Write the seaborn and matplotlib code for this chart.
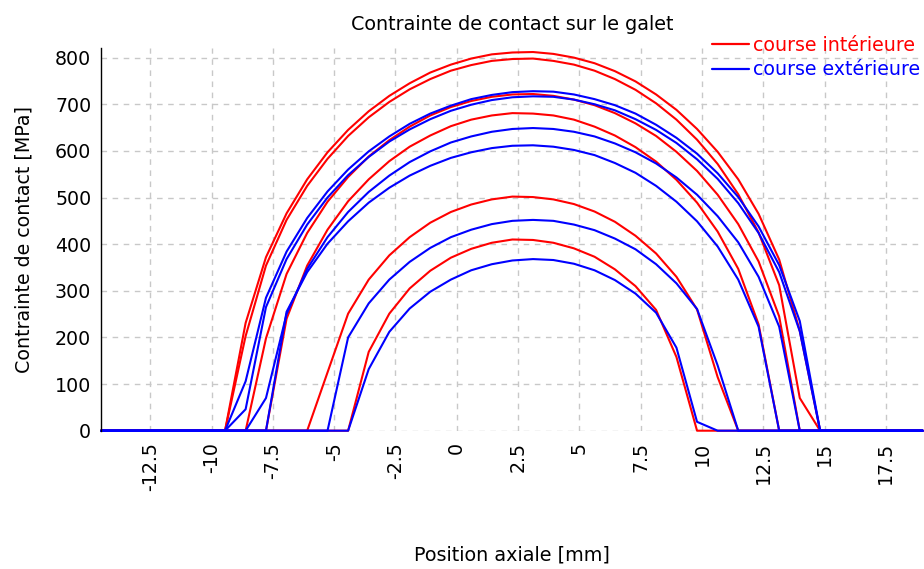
import matplotlib
matplotlib.use("Agg")
import matplotlib.pyplot as plt
import numpy as np
import pandas as pd
import seaborn as sns

# ---------------- data ----------------
x_mm = [-14.5, -9.45, -8.61, -7.78, -6.94, -6.10, -5.27, -4.43, -3.59, -2.75,
        -1.92, -1.08, -0.24, 0.59, 1.43, 2.27, 3.11, 3.94, 4.78, 5.62,
        6.45, 7.29, 8.13, 8.96, 9.80, 10.64, 11.48, 12.31, 13.15, 13.99,
        14.82, 19.0]

inner_1 = [0, 0, 231, 372, 466, 539, 597, 645, 685, 718, 745, 768, 785, 798, 807, 811,
           812, 808, 800, 788, 771, 749, 721, 688, 647, 598, 539, 465, 367, 214, 0, 0]
inner_2 = [0, 0, 203, 354, 452, 525, 583, 632, 672, 705, 732, 754, 772, 784, 793, 797,
           798, 793, 785, 772, 754, 731, 702, 667, 624, 572, 507, 425, 312, 70, 0, 0]
inner_3 = [0, 0, 0, 198, 336, 424, 491, 544, 588, 623, 652, 676, 694, 707, 716, 721,
           722, 718, 710, 698, 681, 659, 632, 598, 557, 506, 443, 363, 245, 0, 0, 0]
inner_4 = [0, 0, 0, 0, 240, 354, 431, 492, 539, 578, 609, 633, 653, 667, 676, 681,
           680, 676, 667, 652, 633, 608, 577, 538, 489, 427, 347, 228, 0, 0, 0, 0]
inner_5 = [0, 0, 0, 0, 0, 0, 125, 251, 324, 376, 415, 446, 469, 485, 496, 502,
           501, 496, 486, 470, 448, 418, 380, 330, 260, 115, 0, 0, 0, 0, 0, 0]
inner_6 = [0, 0, 0, 0, 0, 0, 0, 0, 169, 251, 305, 343, 371, 390, 403, 410,
           409, 403, 391, 373, 346, 310, 259, 158, 0, 0, 0, 0, 0, 0, 0, 0]

outer_1 = [0, 0, 106, 285, 384, 456, 513, 560, 599, 631, 658, 680, 697, 711, 720, 726,
           728, 727, 721, 711, 698, 680, 656, 628, 594, 552, 501, 438, 355, 235, 0, 0]
outer_2 = [0, 0, 46, 265, 368, 442, 500, 548, 587, 620, 646, 668, 686, 699, 709, 715,
           717, 716, 710, 700, 687, 668, 645, 617, 582, 540, 488, 424, 340, 213, 0, 0]
outer_3 = [0, 0, 0, 70, 250, 347, 415, 469, 512, 547, 576, 599, 618, 631, 641, 647,
           649, 647, 641, 631, 616, 597, 573, 543, 506, 460, 404, 330, 223, 0, 0, 0]
outer_4 = [0, 0, 0, 0, 255, 340, 401, 449, 489, 521, 547, 568, 585, 597, 606, 611,
           612, 609, 602, 591, 574, 553, 525, 491, 449, 395, 324, 223, 0, 0, 0, 0]
outer_5 = [0, 0, 0, 0, 0, 0, 0, 200, 273, 324, 362, 392, 415, 431, 443, 450,
           452, 450, 442, 430, 412, 389, 357, 316, 261, 140, 0, 0, 0, 0, 0, 0]
outer_6 = [0, 0, 0, 0, 0, 0, 0, 0, 132, 212, 262, 298, 324, 344, 357, 365,
           368, 366, 358, 344, 323, 294, 253, 178, 19, 0, 0, 0, 0, 0, 0, 0]

label_inner = "course intérieure"
label_outer = "course extérieure"
inner_series = [inner_1, inner_2, inner_3, inner_4, inner_5, inner_6]
outer_series = [outer_1, outer_2, outer_3, outer_4, outer_5, outer_6]

x_ticks = [-12.5, -10, -7.5, -5, -2.5, 0, 2.5, 5, 7.5, 10, 12.5, 15, 17.5]
x_tick_labels = ["-12.5", "-10", "-7.5", "-5", "-2.5", "0", "2.5", "5", "7.5",
                 "10", "12.5", "15", "17.5"]
y_ticks = [0, 100, 200, 300, 400, 500, 600, 700, 800]
y_tick_labels = ["0", "100", "200", "300", "400", "500", "600", "700", "800"]

title = "Contrainte de contact sur le galet"
x_label = "Position axiale [mm]"
y_label = "Contrainte de contact [MPa]"

# ---------------- build long table ----------------
rows = []
for i, ys in enumerate(inner_series):
    for x, y in zip(x_mm, ys):
        rows.append((x, y, label_inner, f"i{i}"))
for i, ys in enumerate(outer_series):
    for x, y in zip(x_mm, ys):
        rows.append((x, y, label_outer, f"o{i}"))
df = pd.DataFrame(rows, columns=["x", "p", "course", "case"])

# ---------------- plot ----------------
sns.set_style("white")
plt.rcParams["font.family"] = ["DejaVu Sans"]
plt.rcParams["text.color"] = "black"
plt.rcParams["axes.labelcolor"] = "black"
plt.rcParams["xtick.color"] = "black"
plt.rcParams["ytick.color"] = "black"

fig = plt.figure(figsize=(9.24, 5.69), dpi=100)
ax = fig.add_axes([0.10952, 0.24306, 0.8890, 0.67206])

palette = {label_inner: "#ff0000", label_outer: "#0000ff"}
sns.lineplot(data=df, x="x", y="p", hue="course", units="case", estimator=None,
             sort=False, palette=palette, hue_order=[label_inner, label_outer],
             lw=1.5, ax=ax, legend=True, clip_on=False)

ax.set_xlim(-14.5, 19.0)
ax.set_ylim(0, 820)
ax.set_xticks(x_ticks)
ax.set_xticklabels(x_tick_labels, rotation=90, fontsize=13.7, color="black")
ax.set_yticks(y_ticks)
ax.set_yticklabels(y_tick_labels, fontsize=13.7, color="black")
ax.tick_params(axis="x", direction="inout", length=9.4, width=1, color="#333333",
               pad=3.5)
ax.tick_params(axis="y", direction="inout", length=7.2, width=1, color="#333333",
               pad=3.5)

ax.grid(True, linestyle=(0, (4, 4)), color="#c8c8c8", lw=1)
ax.set_axisbelow(True)
for s in ["top", "right", "bottom"]:
    ax.spines[s].set_visible(False)
ax.spines["left"].set_color("#000000")
ax.spines["left"].set_linewidth(1)

ax.set_title(title, fontsize=13.8, pad=13.3, color="black")
ax.set_xlabel(x_label, fontsize=13.8, color="black")
ax.set_ylabel(y_label, fontsize=13.7, color="black")
ax.xaxis.set_label_coords(0.5, -0.30)
ax.yaxis.set_label_coords(-0.082, 0.5)

handles, labels = ax.get_legend_handles_labels()
leg = ax.legend(handles, labels, loc="upper left", bbox_to_anchor=(0.7706, 0.9374),
                bbox_transform=fig.transFigure, frameon=False, fontsize=13.7,
                handlelength=1.94, handletextpad=0.21, labelspacing=0.3,
                borderpad=0, borderaxespad=0)
for t, c in zip(leg.get_texts(), ["#ff0000", "#0000ff"]):
    t.set_color(c)
for h in leg.legend_handles:
    h.set_linewidth(1.6)

fig.savefig("out.png", dpi=100)
